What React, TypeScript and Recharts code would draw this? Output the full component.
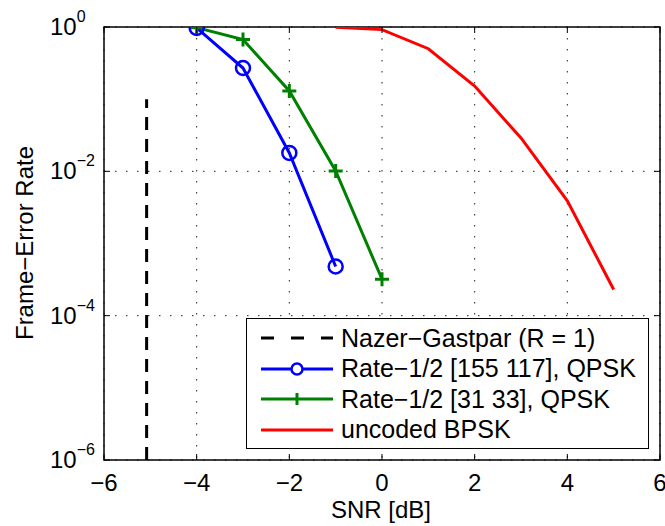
import React from 'react';
import { LineChart, Line, XAxis, YAxis, CartesianGrid, Legend, ReferenceArea } from 'recharts';

const FONT = '"Liberation Sans", Arial, Helvetica, sans-serif';

// SNR points (dB) and frame-error rates
const snrNazer = [-5.08, -5.08];
const ferNazer = [1e-6, 0.1];

const snr155 = [-4, -3, -2, -1];
const fer155 = [0.97, 0.27, 0.018, 4.8e-4];

const snr3133 = [-4, -3, -2, -1, 0];
const fer3133 = [0.98, 0.67, 0.13, 0.0101, 3.2e-4];

const snrUncoded = [-1, 0, 1, 2, 3, 4, 5];
const ferUncoded = [0.99, 0.92, 0.5, 0.152, 0.029, 0.0039, 2.3e-4];

const xTicks = [-6, -4, -2, 0, 2, 4, 6];
const yTicks = [1e-6, 1e-4, 1e-2, 1];

const legendItems = [
  { name: 'Nazer\u2212Gastpar (R = 1)', color: '#000000', kind: 'dash' },
  { name: 'Rate\u22121/2 [155 117], QPSK', color: '#0000ff', kind: 'circle' },
  { name: 'Rate\u22121/2 [31 33], QPSK', color: '#008000', kind: 'plus' },
  { name: 'uncoded BPSK', color: '#ff0000', kind: 'line' },
];

const zip = (xs: number[], ys: number[]) => xs.map((snr, i) => ({ snr, fer: ys[i] }));

const PLOT_TOP = 27;
const PLOT_BOTTOM = 460;
const PLOT_LEFT = 104;
const PLOT_RIGHT = 660;

const XTick = (props: any) => {
  const { x, y, payload } = props;
  const label = payload.value < 0 ? `\u2212${Math.abs(payload.value)}` : `${payload.value}`;
  return (
    <g>
      <line x1={x} y1={PLOT_BOTTOM} x2={x} y2={PLOT_BOTTOM - 6} stroke="#000" strokeWidth={1} />
      <line x1={x} y1={PLOT_TOP} x2={x} y2={PLOT_TOP + 6} stroke="#000" strokeWidth={1} />
      <text x={x} y={y + 31} textAnchor="middle" fontSize={24} fontFamily={FONT} fill="#000">
        {label}
      </text>
    </g>
  );
};

const YTick = (props: any) => {
  const { y, payload } = props;
  const exp = Math.round(Math.log10(payload.value));
  const expLabel = exp < 0 ? `\u2212${Math.abs(exp)}` : `${exp}`;
  return (
    <g>
      <line x1={PLOT_LEFT} y1={y} x2={PLOT_LEFT + 6} y2={y} stroke="#000" strokeWidth={1} />
      <line x1={PLOT_RIGHT} y1={y} x2={PLOT_RIGHT - 6} y2={y} stroke="#000" strokeWidth={1} />
      <text x={50} y={y + 8} textAnchor="start" fontSize={24} fontFamily={FONT} fill="#000">
        <tspan>10</tspan>
        <tspan dy={-13} fontSize={16}>{expLabel}</tspan>
      </text>
    </g>
  );
};

const CircleDot = (props: any) => {
  const { cx, cy } = props;
  if (cx == null || cy == null) return null;
  return <circle cx={cx} cy={cy} r={7} fill="none" stroke="#0000ff" strokeWidth={2.5} />;
};

const PlusDot = (props: any) => {
  const { cx, cy } = props;
  if (cx == null || cy == null) return null;
  return (
    <path d={`M${cx - 7},${cy}H${cx + 7}M${cx},${cy - 7}V${cy + 7}`} stroke="#008000" strokeWidth={3} fill="none" />
  );
};

const LegendBox = () => (
  <div
    style={{
      width: 403,
      height: 131,
      border: '1.5px solid #000',
      background: '#fff',
      fontFamily: FONT,
      fontSize: 25,
      paddingTop: 4,
      boxSizing: 'border-box',
    }}
  >
    {legendItems.map(item => (
      <div key={item.name} style={{ display: 'flex', alignItems: 'center', height: 30.5, whiteSpace: 'nowrap' }}>
        <svg width={94} height={30} style={{ flex: 'none' }}>
          <line
            x1={14}
            y1={15}
            x2={86}
            y2={15}
            stroke={item.color}
            strokeWidth={3}
            strokeDasharray={item.kind === 'dash' ? '13 17' : undefined}
          />
          {item.kind === 'circle' && <circle cx={50} cy={15} r={5.5} fill="#fff" stroke={item.color} strokeWidth={2.5} />}
          {item.kind === 'plus' && <path d="M50,9V21" stroke={item.color} strokeWidth={3} />}
        </svg>
        <span style={{ color: '#000', lineHeight: 1 }}>{item.name}</span>
      </div>
    ))}
  </div>
);

export default function App() {
  return (
    <div style={{ position: 'absolute', left: 0, top: 0, width: 665, height: 526, background: '#fff' }}>
      <LineChart width={665} height={526} margin={{ top: PLOT_TOP, right: 5, bottom: 0, left: 0 }}>
        <CartesianGrid stroke="#222" strokeDasharray="1.5 9.5" strokeWidth={1} />
        <XAxis
          type="number"
          dataKey="snr"
          domain={[-6, 6]}
          ticks={xTicks}
          height={66}
          tickSize={0}
          tickMargin={0}
          axisLine={false}
          tick={<XTick />}
          allowDataOverflow
        />
        <YAxis
          type="number"
          dataKey="fer"
          scale="log"
          domain={[1e-6, 1]}
          ticks={yTicks}
          width={104}
          tickSize={0}
          tickMargin={0}
          axisLine={false}
          tick={<YTick />}
          allowDataOverflow
        />
        <ReferenceArea x1={-6} x2={6} y1={1e-6} y2={1} fill="none" stroke="#000" strokeWidth={1.5} />
        <Line
          data={zip(snrNazer, ferNazer)}
          dataKey="fer"
          stroke="#000"
          strokeWidth={3}
          strokeDasharray="13 9"
          dot={false}
          isAnimationActive={false}
        />
        <Line
          data={zip(snrUncoded, ferUncoded)}
          dataKey="fer"
          stroke="#ff0000"
          strokeWidth={3}
          dot={false}
          isAnimationActive={false}
        />
        <Line
          data={zip(snr3133, fer3133)}
          dataKey="fer"
          stroke="#008000"
          strokeWidth={3}
          dot={<PlusDot />}
          isAnimationActive={false}
        />
        <Line
          data={zip(snr155, fer155)}
          dataKey="fer"
          stroke="#0000ff"
          strokeWidth={3}
          dot={<CircleDot />}
          isAnimationActive={false}
        />
        <Legend
          layout="vertical"
          align="center"
          verticalAlign="middle"
          content={<LegendBox />}
          wrapperStyle={{ position: 'absolute', left: 246, top: 318, width: 403, height: 131 }}
        />
        <text x={381} y={518} textAnchor="middle" fontSize={24} fontFamily={FONT} fill="#000">
          SNR [dB]
        </text>
        <text
          x={33}
          y={243}
          transform="rotate(-90 33 243)"
          textAnchor="middle"
          fontSize={24}
          fontFamily={FONT}
          fill="#000"
        >
          {'Frame\u2212Error Rate'}
        </text>
      </LineChart>
    </div>
  );
}
